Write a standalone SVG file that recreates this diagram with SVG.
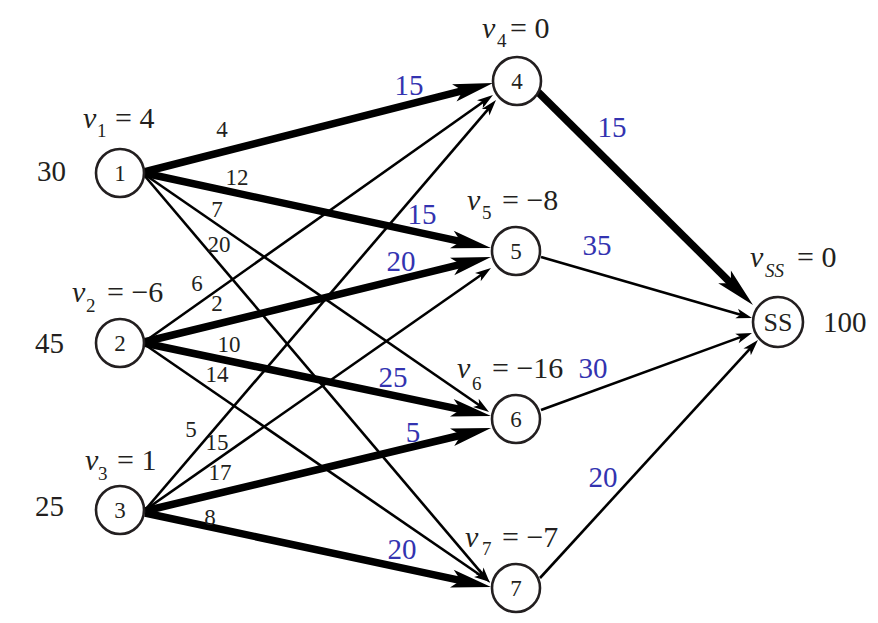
<svg xmlns="http://www.w3.org/2000/svg" width="878" height="623" viewBox="0 0 878 623" font-family="Liberation Serif, DejaVu Serif, serif">
<style>
text{fill:#231f20}
.node circle{fill:#fff;stroke:#231f20;stroke-width:2.6}
.nl{font-size:23px;text-anchor:middle}
.ss{font-size:26px}
.thin{stroke:#000;stroke-width:2.6;fill:none;marker-end:url(#ah)}
.thick{stroke:#000;stroke-width:7.5;fill:none;marker-end:url(#ahT)}
.el{font-size:23px;text-anchor:middle}
.fl{font-size:29px;fill:#3333b0;text-anchor:middle}
.sup{font-size:29px}
.vl{font-size:30px}
.vv{font-style:italic}
.sb{font-size:19px}
</style>
<defs>
<marker id="ah" markerUnits="userSpaceOnUse" viewBox="-17 -6 18 12" markerWidth="18" markerHeight="12" refX="-10" refY="0" orient="auto" overflow="visible"><path d="M0,0 L-16,-5 L-12,0 L-16,5 Z" fill="#000"/></marker>
<marker id="ahT" markerUnits="userSpaceOnUse" viewBox="-41 -10 42 20" markerWidth="42" markerHeight="20" refX="-28" refY="0" orient="auto" overflow="visible"><path d="M0,0 L-40,-9 L-31,0 L-40,9 Z" fill="#000"/></marker>
</defs>
<g id="connectors">
<line class="thick" x1="144" y1="172" x2="465.9" y2="89.9"/>
<line class="thick" x1="144" y1="173" x2="463.6" y2="242.1"/>
<line class="thin" x1="144" y1="174" x2="480.8" y2="406.3"/>
<line class="thin" x1="144" y1="175" x2="483.5" y2="575.4"/>
<line class="thin" x1="144" y1="342" x2="484.8" y2="100.8"/>
<line class="thick" x1="144" y1="342" x2="463.8" y2="263.7"/>
<line class="thick" x1="144" y1="343" x2="463.6" y2="410.2"/>
<line class="thin" x1="144" y1="344" x2="481.8" y2="576.3"/>
<line class="thin" x1="145" y1="510" x2="489.5" y2="107.6"/>
<line class="thin" x1="145" y1="510" x2="482.8" y2="273.7"/>
<line class="thick" x1="145" y1="511" x2="463.8" y2="434.5"/>
<line class="thick" x1="145" y1="513" x2="463.6" y2="581.1"/>
<line class="thick" x1="538" y1="92" x2="733.1" y2="285.3"/>
<line class="thin" x1="541" y1="257" x2="742.4" y2="315.2"/>
<line class="thin" x1="541" y1="410" x2="742.6" y2="336.4"/>
<line class="thin" x1="540" y1="578" x2="751.2" y2="347.4"/>
<text class="el" x="222" y="137">4</text>
<text class="el" x="237" y="185">12</text>
<text class="el" x="217" y="217">7</text>
<text class="el" x="219" y="252">20</text>
<text class="el" x="197" y="291">6</text>
<text class="el" x="217" y="311">2</text>
<text class="el" x="229" y="352">10</text>
<text class="el" x="217" y="382">14</text>
<text class="el" x="191" y="437">5</text>
<text class="el" x="217" y="450">15</text>
<text class="el" x="220" y="480">17</text>
<text class="el" x="210" y="525">8</text>
<text class="fl" x="409" y="95">15</text>
<text class="fl" x="422" y="224">15</text>
<text class="fl" x="401" y="271">20</text>
<text class="fl" x="393" y="387">25</text>
<text class="fl" x="413" y="442">5</text>
<text class="fl" x="402" y="559">20</text>
<text class="fl" x="612" y="137">15</text>
<text class="fl" x="597" y="255">35</text>
<text class="fl" x="593" y="378">30</text>
<text class="fl" x="603" y="487">20</text>
</g>
<g id="node1" class="node"><circle cx="120" cy="173" r="24"/><text class="nl" x="120" y="181">1</text>
<text class="sup" x="37" y="181">30</text>
<text class="vl" x="83" y="128"><tspan class="vv">v</tspan><tspan class="sb" x="97" y="137">1</tspan><tspan x="115" y="128">= 4</tspan></text></g>
<g id="node2" class="node"><circle cx="120" cy="343" r="24"/><text class="nl" x="120" y="351">2</text>
<text class="sup" x="35" y="353">45</text>
<text class="vl" x="72" y="302"><tspan class="vv">v</tspan><tspan class="sb" x="86" y="312">2</tspan><tspan x="107" y="302">= −6</tspan></text></g>
<g id="node3" class="node"><circle cx="120" cy="510" r="24"/><text class="nl" x="120" y="518">3</text>
<text class="sup" x="35" y="516">25</text>
<text class="vl" x="85" y="470"><tspan class="vv">v</tspan><tspan class="sb" x="98" y="480">3</tspan><tspan x="117" y="470">= 1</tspan></text></g>
<g id="node4" class="node"><circle cx="517" cy="81" r="24"/><text class="nl" x="517" y="89">4</text>
<text class="vl" x="482" y="38"><tspan class="vv">v</tspan><tspan class="sb" x="497" y="47">4</tspan><tspan x="510" y="38">= 0</tspan></text></g>
<g id="node5" class="node"><circle cx="516" cy="251" r="24"/><text class="nl" x="516" y="259">5</text>
<text class="vl" x="467" y="210"><tspan class="vv">v</tspan><tspan class="sb" x="482" y="219">5</tspan><tspan x="502" y="210">= −8</tspan></text></g>
<g id="node6" class="node"><circle cx="516" cy="419" r="24"/><text class="nl" x="516" y="427">6</text>
<text class="vl" x="457" y="378"><tspan class="vv">v</tspan><tspan class="sb" x="472" y="390">6</tspan><tspan x="492" y="378">= −16</tspan></text></g>
<g id="node7" class="node"><circle cx="516" cy="588" r="24"/><text class="nl" x="516" y="596">7</text>
<text class="vl" x="465" y="547"><tspan class="vv">v</tspan><tspan class="sb" x="482" y="555">7</tspan><tspan x="502" y="547">= −7</tspan></text></g>
<g id="nodeSS" class="node"><circle cx="778" cy="322" r="25"/><text class="nl ss" x="778" y="331">SS</text>
<text class="sup" x="823" y="332">100</text>
<text class="vl" x="750" y="267"><tspan class="vv">v</tspan><tspan class="sb vv" x="765" y="277">SS</tspan><tspan x="797" y="267">= 0</tspan></text></g>
</svg>
